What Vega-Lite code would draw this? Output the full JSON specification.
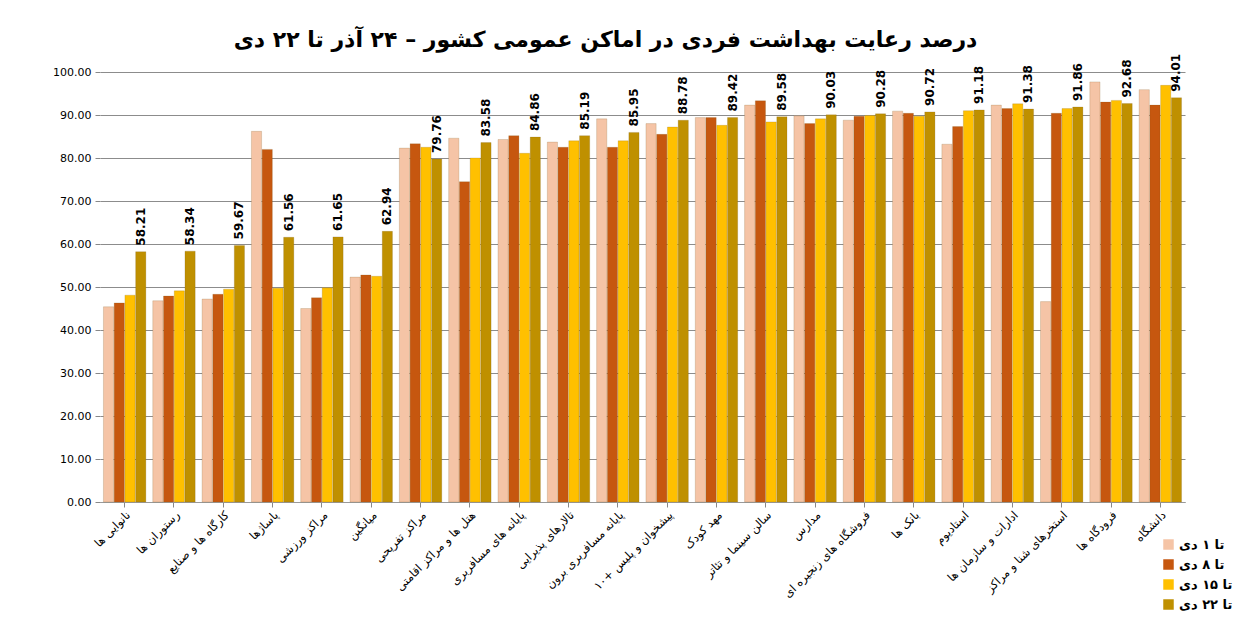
{
  "$schema": "https://vega.github.io/schema/vega-lite/v6.json",
  "autosize": "none",
  "padding": {"left": 100, "top": 72, "right": 65, "bottom": 133},
  "width": 1085,
  "height": 430,
  "title": {
    "text": "درصد رعایت بهداشت فردی در اماکن عمومی کشور  –  ۲۴ آذر تا ۲۲ دی",
    "fontSize": 22,
    "fontWeight": "bold",
    "font": "DejaVu Sans",
    "color": "#000000",
    "anchor": "middle",
    "offset": 2,
    "dx": -37
  },
  "config": {
    "font": "DejaVu Sans",
    "view": {"stroke": null},
    "axis": {"labelColor": "#000000", "domainColor": "#888888", "tickColor": "#888888"}
  },
  "data": {
    "values": [
      {"c": "نانوایی ها", "s": "تا ۱ دی", "v": 45.4},
      {"c": "نانوایی ها", "s": "تا ۸ دی", "v": 46.3},
      {"c": "نانوایی ها", "s": "تا ۱۵ دی", "v": 48.1},
      {"c": "نانوایی ها", "s": "تا ۲۲ دی", "v": 58.21},
      {"c": "رستوران ها", "s": "تا ۱ دی", "v": 46.8},
      {"c": "رستوران ها", "s": "تا ۸ دی", "v": 47.9},
      {"c": "رستوران ها", "s": "تا ۱۵ دی", "v": 49.1},
      {"c": "رستوران ها", "s": "تا ۲۲ دی", "v": 58.34},
      {"c": "کارگاه ها و صنایع", "s": "تا ۱ دی", "v": 47.2},
      {"c": "کارگاه ها و صنایع", "s": "تا ۸ دی", "v": 48.3},
      {"c": "کارگاه ها و صنایع", "s": "تا ۱۵ دی", "v": 49.5},
      {"c": "کارگاه ها و صنایع", "s": "تا ۲۲ دی", "v": 59.67},
      {"c": "پاساژها", "s": "تا ۱ دی", "v": 86.2},
      {"c": "پاساژها", "s": "تا ۸ دی", "v": 82.0},
      {"c": "پاساژها", "s": "تا ۱۵ دی", "v": 49.7},
      {"c": "پاساژها", "s": "تا ۲۲ دی", "v": 61.56},
      {"c": "مراکز ورزشی", "s": "تا ۱ دی", "v": 45.0},
      {"c": "مراکز ورزشی", "s": "تا ۸ دی", "v": 47.5},
      {"c": "مراکز ورزشی", "s": "تا ۱۵ دی", "v": 49.8},
      {"c": "مراکز ورزشی", "s": "تا ۲۲ دی", "v": 61.65},
      {"c": "میانگین", "s": "تا ۱ دی", "v": 52.3},
      {"c": "میانگین", "s": "تا ۸ دی", "v": 52.8},
      {"c": "میانگین", "s": "تا ۱۵ دی", "v": 52.5},
      {"c": "میانگین", "s": "تا ۲۲ دی", "v": 62.94},
      {"c": "مراکز تفریحی", "s": "تا ۱ دی", "v": 82.3},
      {"c": "مراکز تفریحی", "s": "تا ۸ دی", "v": 83.3},
      {"c": "مراکز تفریحی", "s": "تا ۱۵ دی", "v": 82.5},
      {"c": "مراکز تفریحی", "s": "تا ۲۲ دی", "v": 79.76},
      {"c": "هتل ها و مراکز اقامتی", "s": "تا ۱ دی", "v": 84.6},
      {"c": "هتل ها و مراکز اقامتی", "s": "تا ۸ دی", "v": 74.5},
      {"c": "هتل ها و مراکز اقامتی", "s": "تا ۱۵ دی", "v": 80.0},
      {"c": "هتل ها و مراکز اقامتی", "s": "تا ۲۲ دی", "v": 83.58},
      {"c": "پایانه های مسافربری", "s": "تا ۱ دی", "v": 84.3},
      {"c": "پایانه های مسافربری", "s": "تا ۸ دی", "v": 85.2},
      {"c": "پایانه های مسافربری", "s": "تا ۱۵ دی", "v": 81.1},
      {"c": "پایانه های مسافربری", "s": "تا ۲۲ دی", "v": 84.86},
      {"c": "تالارهای پذیرایی", "s": "تا ۱ دی", "v": 83.7},
      {"c": "تالارهای پذیرایی", "s": "تا ۸ دی", "v": 82.5},
      {"c": "تالارهای پذیرایی", "s": "تا ۱۵ دی", "v": 84.0},
      {"c": "تالارهای پذیرایی", "s": "تا ۲۲ دی", "v": 85.19},
      {"c": "پایانه مسافربری برون", "s": "تا ۱ دی", "v": 89.1},
      {"c": "پایانه مسافربری برون", "s": "تا ۸ دی", "v": 82.5},
      {"c": "پایانه مسافربری برون", "s": "تا ۱۵ دی", "v": 84.0},
      {"c": "پایانه مسافربری برون", "s": "تا ۲۲ دی", "v": 85.95},
      {"c": "پیشخوان و پلیس +۱۰", "s": "تا ۱ دی", "v": 88.0},
      {"c": "پیشخوان و پلیس +۱۰", "s": "تا ۸ دی", "v": 85.5},
      {"c": "پیشخوان و پلیس +۱۰", "s": "تا ۱۵ دی", "v": 87.2},
      {"c": "پیشخوان و پلیس +۱۰", "s": "تا ۲۲ دی", "v": 88.78},
      {"c": "مهد کودک", "s": "تا ۱ دی", "v": 89.4},
      {"c": "مهد کودک", "s": "تا ۸ دی", "v": 89.4},
      {"c": "مهد کودک", "s": "تا ۱۵ دی", "v": 87.6},
      {"c": "مهد کودک", "s": "تا ۲۲ دی", "v": 89.42},
      {"c": "سالن سینما و تئاتر", "s": "تا ۱ دی", "v": 92.3},
      {"c": "سالن سینما و تئاتر", "s": "تا ۸ دی", "v": 93.3},
      {"c": "سالن سینما و تئاتر", "s": "تا ۱۵ دی", "v": 88.4},
      {"c": "سالن سینما و تئاتر", "s": "تا ۲۲ دی", "v": 89.58},
      {"c": "مدارس", "s": "تا ۱ دی", "v": 89.8},
      {"c": "مدارس", "s": "تا ۸ دی", "v": 88.0},
      {"c": "مدارس", "s": "تا ۱۵ دی", "v": 89.1},
      {"c": "مدارس", "s": "تا ۲۲ دی", "v": 90.03},
      {"c": "فروشگاه های زنجیره ای", "s": "تا ۱ دی", "v": 88.8},
      {"c": "فروشگاه های زنجیره ای", "s": "تا ۸ دی", "v": 89.7},
      {"c": "فروشگاه های زنجیره ای", "s": "تا ۱۵ دی", "v": 89.9},
      {"c": "فروشگاه های زنجیره ای", "s": "تا ۲۲ دی", "v": 90.28},
      {"c": "بانک ها", "s": "تا ۱ دی", "v": 90.9},
      {"c": "بانک ها", "s": "تا ۸ دی", "v": 90.4},
      {"c": "بانک ها", "s": "تا ۱۵ دی", "v": 89.7},
      {"c": "بانک ها", "s": "تا ۲۲ دی", "v": 90.72},
      {"c": "استادیوم", "s": "تا ۱ دی", "v": 83.2},
      {"c": "استادیوم", "s": "تا ۸ دی", "v": 87.3},
      {"c": "استادیوم", "s": "تا ۱۵ دی", "v": 91.0},
      {"c": "استادیوم", "s": "تا ۲۲ دی", "v": 91.18},
      {"c": "ادارات و سازمان ها", "s": "تا ۱ دی", "v": 92.3},
      {"c": "ادارات و سازمان ها", "s": "تا ۸ دی", "v": 91.5},
      {"c": "ادارات و سازمان ها", "s": "تا ۱۵ دی", "v": 92.6},
      {"c": "ادارات و سازمان ها", "s": "تا ۲۲ دی", "v": 91.38},
      {"c": "استخرهای شنا و مراکز", "s": "تا ۱ دی", "v": 46.6},
      {"c": "استخرهای شنا و مراکز", "s": "تا ۸ دی", "v": 90.4},
      {"c": "استخرهای شنا و مراکز", "s": "تا ۱۵ دی", "v": 91.5},
      {"c": "استخرهای شنا و مراکز", "s": "تا ۲۲ دی", "v": 91.86},
      {"c": "فرودگاه ها", "s": "تا ۱ دی", "v": 97.7},
      {"c": "فرودگاه ها", "s": "تا ۸ دی", "v": 93.0},
      {"c": "فرودگاه ها", "s": "تا ۱۵ دی", "v": 93.4},
      {"c": "فرودگاه ها", "s": "تا ۲۲ دی", "v": 92.68},
      {"c": "دانشگاه", "s": "تا ۱ دی", "v": 95.9},
      {"c": "دانشگاه", "s": "تا ۸ دی", "v": 92.3},
      {"c": "دانشگاه", "s": "تا ۱۵ دی", "v": 96.9},
      {"c": "دانشگاه", "s": "تا ۲۲ دی", "v": 94.01}
    ]
  },
  "encoding": {
    "x": {
      "field": "c",
      "type": "nominal",
      "sort": null,
      "title": null,
      "scale": {"paddingInner": 0.14, "paddingOuter": 0.07},
      "axis": {"labelAngle": -45, "labelFontSize": 11.5, "labelLimit": 200, "tickSize": 5, "domainColor": "#999999"}
    },
    "xOffset": {
      "field": "s",
      "type": "nominal",
      "scale": {"domain": ["تا ۱ دی", "تا ۸ دی", "تا ۱۵ دی", "تا ۲۲ دی"], "paddingInner": 0.05}
    },
    "y": {
      "field": "v",
      "type": "quantitative",
      "title": null,
      "scale": {"domain": [0, 100]},
      "axis": {"values": [0, 10, 20, 30, 40, 50, 60, 70, 80, 90, 100], "format": ".2f", "labelFontSize": 11, "gridColor": "#8c8c8c", "gridWidth": 1, "domain": false, "ticks": true, "tickSize": 5, "labelPadding": 4}
    }
  },
  "layer": [
    {
      "mark": {"type": "bar", "stroke": "#7a5a20", "strokeWidth": 0.4, "strokeOpacity": 0.5},
      "encoding": {
        "color": {
          "field": "s",
          "type": "nominal",
          "scale": {
            "domain": ["تا ۱ دی", "تا ۸ دی", "تا ۱۵ دی", "تا ۲۲ دی"],
            "range": ["#F5C4A6", "#C6570F", "#FFC000", "#BF9000"]
          },
          "legend": {
            "title": null,
            "orient": "none",
            "legendX": 1062,
            "legendY": 466,
            "symbolType": "square",
            "symbolSize": 110,
            "symbolStrokeWidth": 0,
            "labelFontSize": 13,
            "labelFontWeight": "bold",
            "rowPadding": 6
          }
        }
      }
    },
    {
      "transform": [{"filter": "datum.s == 'تا ۲۲ دی'"}],
      "mark": {"type": "text", "angle": -90, "align": "left", "baseline": "middle", "dx": 6, "fontSize": 12, "fontWeight": "bold", "color": "#000000"},
      "encoding": {
        "text": {"field": "v", "type": "quantitative", "format": ".2f"}
      }
    }
  ]
}
